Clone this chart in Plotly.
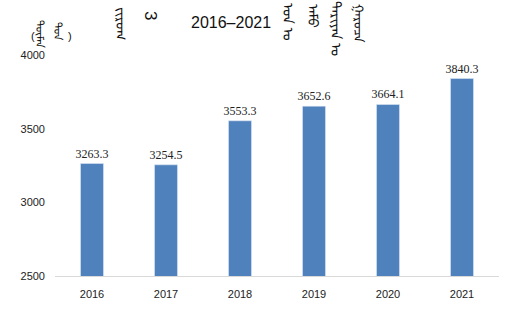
import plotly.graph_objects as go

years = ["2016", "2017", "2018", "2019", "2020", "2021"]
values = [3263.3, 3254.5, 3553.3, 3652.6, 3664.1, 3840.3]
value_labels = ["3263.3", "3254.5", "3553.3", "3652.6", "3664.1", "3840.3"]
y_ticks = [2500, 3000, 3500, 4000]

bar_color = "#4F81BD"

L, R, T, B = 55, 12, 55, 35
W, H = 511, 311
PW, PH = W - L - R, H - T - B

fig = go.Figure()
fig.add_trace(go.Bar(
    x=years, y=values, marker_color=bar_color, width=0.31,
    text=value_labels, textposition="outside", constraintext="none",
    textfont=dict(family="Liberation Serif", size=12, color="#222222"),
    cliponaxis=False,
))

fig.update_layout(
    width=W, height=H,
    margin=dict(l=L, r=R, t=T, b=B),
    paper_bgcolor="white", plot_bgcolor="white",
    showlegend=False,
    xaxis=dict(showline=True, linecolor="#D9D9D9", linewidth=1, ticks="",
               ticklabelstandoff=8,
               tickfont=dict(family="Liberation Sans", size=11, color="#222222")),
    yaxis=dict(range=[2500, 4000], tickvals=y_ticks, showgrid=False, zeroline=False,
               showline=False, ticks="", ticklabelstandoff=9,
               tickfont=dict(family="Liberation Sans", size=11, color="#222222")),
)

MONG = "Noto Sans Mongolian, Noto Sans"


def ann(text, px, py, size=14, angle=90, fam=MONG):
    fig.add_annotation(text=text, x=(px - L) / PW, y=(H - B - py) / PH,
                       xref="paper", yref="paper",
                       showarrow=False, textangle=angle, xanchor="center", yanchor="middle",
                       font=dict(family=fam, size=size, color="#111111"))


ann("2016–2021", 231, 22, size=16, angle=0, fam="Liberation Sans")
ann("ᠵᠢᠷᠤᠭ", 124, 23, size=14)
ann("3", 150, 15, size=17, fam="Liberation Sans")
ann("ᠣᠨ ᠤ", 291, 22, size=14)
ann("ᠠᠮᠤ", 316, 16, size=14)
ann("ᠲᠠᠷᠢᠶᠠᠨ ᠤ", 339, 28, size=14)
ann("ᠭᠠᠷᠤᠴᠠ", 362, 23, size=13)
ann("(", 33, 36, size=11, angle=0, fam="Liberation Sans")
ann("ᠲᠦᠮᠡᠨ", 42, 34, size=11)
ann("ᠲᠣᠨ", 60, 31, size=11)
ann(")", 70, 36, size=11, angle=0, fam="Liberation Sans")

fig.write_html("out.html")
